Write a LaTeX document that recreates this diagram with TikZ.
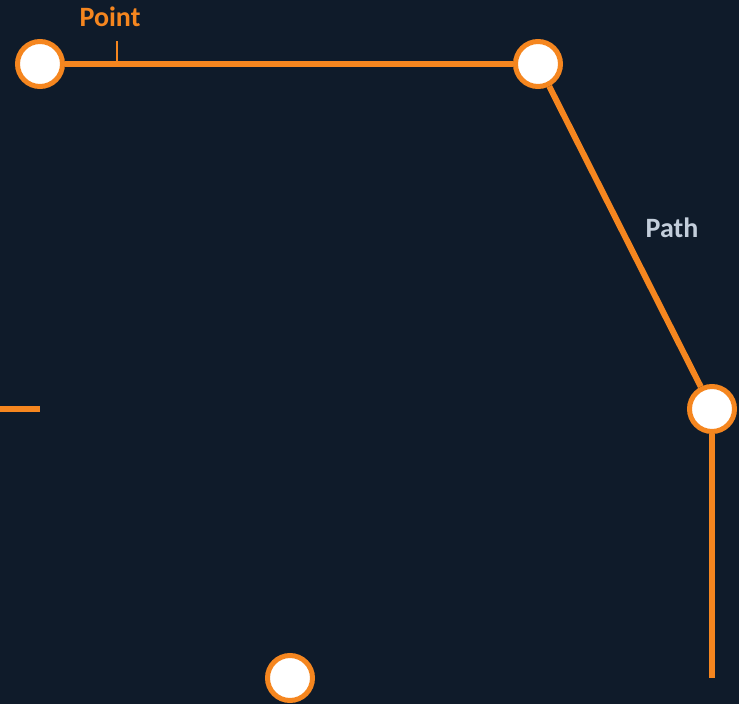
\documentclass[tikz,border=0pt]{standalone}
\usepackage{fontspec}
\setmainfont{Carlito}
\usepackage{tikz, color}
\definecolor{fondo}{HTML}{0F1B2A}
\definecolor{naranja}{HTML}{F5861F}
\definecolor{gris}{HTML}{C3CEDB}
\tikzset{
  punto/.style={circle, draw=naranja, fill=white, line width=5pt, minimum size=45pt, inner sep=0pt},
  trazo/.style={naranja, line width=6pt},
  rotulo/.style={font=\bfseries\fontsize{28}{32}\selectfont},
}
\begin{document}
\begin{tikzpicture}[x=1pt, y=-1pt] % coordenadas en pixeles
\fill [fondo] (0,0) rectangle (739,704); % fondo
\useasboundingbox (0,0) rectangle (739,704);
\coordinate (W) at (0,409);
\coordinate (V) at (40,409);
\coordinate (E) at (712,678);
\coordinate (T1) at (117,41);
\coordinate (T2) at (117,64);

\node[punto] (A) at (40,64) {};
\node[punto] (B) at (538,64) {};
\node[punto] (C) at (712,409) {};
\node[punto] (D) at (290,678) {};

\draw [trazo] (W) -- (V);	% izquierda
\draw [trazo] (A) -- (B);	% arriba
\draw [trazo] (B) -- (C);	% diagonal
\draw [trazo] (C) -- (E);	% abajo
\draw [naranja, line width=2pt] (T1) -- (T2);

\node[naranja, rotulo] (L1) at (110,17) {Point};
\node[gris, rotulo] (L2) at (672,228) {Path};
\end{tikzpicture}
\end{document}
